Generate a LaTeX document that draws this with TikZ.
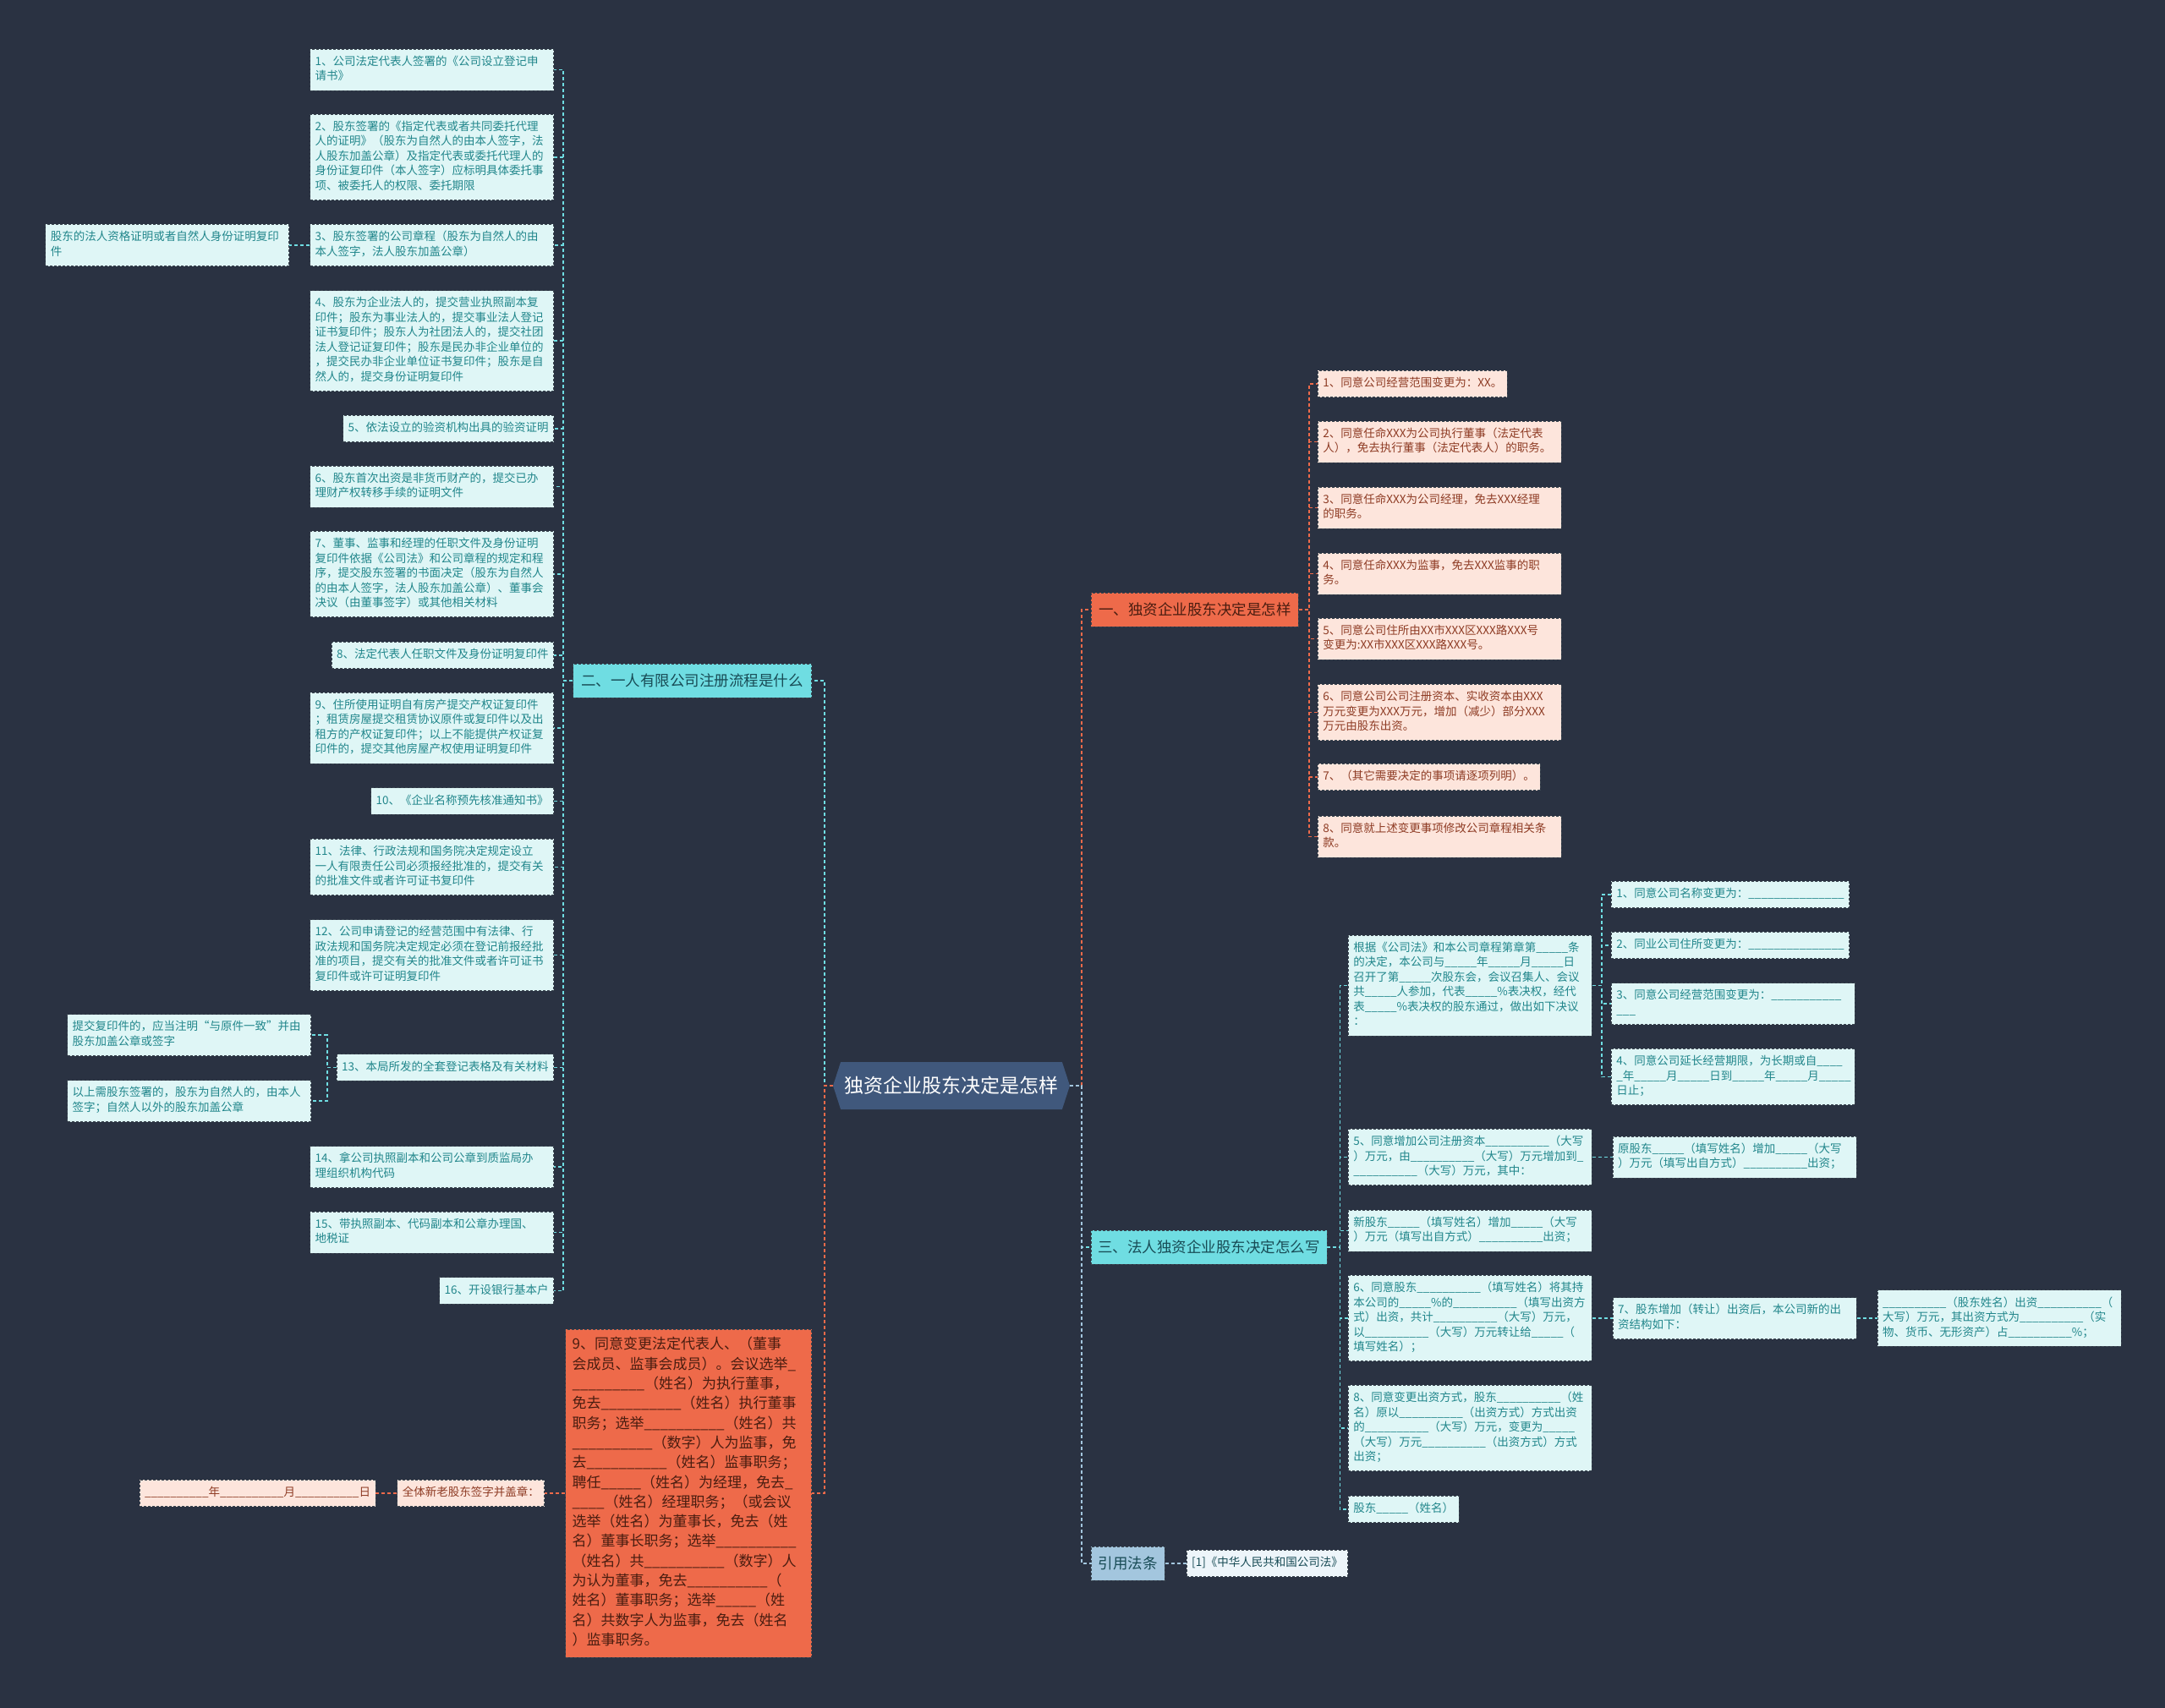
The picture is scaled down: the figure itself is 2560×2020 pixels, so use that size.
\documentclass[tikz,border=0pt]{standalone}
\usepackage{fontspec}
\setmainfont{Noto Sans CJK SC}
\usetikzlibrary{positioning,shapes.symbols}
\definecolor{bg}{HTML}{2A3242}
\definecolor{rootblue}{HTML}{40587C}
\definecolor{coral}{HTML}{EE6A4A}
\definecolor{aqua}{HTML}{6FDDE2}
\definecolor{aquapale}{HTML}{DFF6F6}
\definecolor{aquaink}{HTML}{21868B}
\definecolor{peachpale}{HTML}{FDE5DC}
\definecolor{peachink}{HTML}{8E3B24}
\definecolor{steel}{HTML}{A3C6DE}
\definecolor{mist}{HTML}{EDF5FA}
\definecolor{rim}{HTML}{3B4650}
\definecolor{deepteal}{HTML}{184B55}
\definecolor{deepbrown}{HTML}{4A1D10}
\begin{document}
\catcode`\_=12
\begin{tikzpicture}[x=1pt,y=-1pt,
  leaf/.style={rectangle,fill=aquapale,draw=rim,dash pattern=on 3pt off 2pt,line width=.8pt,text=aquaink,font=\fontsize{13.5}{17.5}\selectfont,align=left,inner xsep=6pt,inner ysep=7pt,execute at begin node=\strut,execute at end node=\strut},
  wide/.style={text width=276pt},
  peach/.style={fill=peachpale,text=peachink},
  branch/.style={rectangle,draw=rim,dash pattern=on 3pt off 2pt,line width=.8pt,font=\fontsize{17.5}{21}\selectfont,minimum height=40pt,inner xsep=8pt},
  wire/.style={line width=1.6pt,dash pattern=on 4pt off 3pt}
]
  \useasboundingbox (0,0) rectangle (2560,2020);
  \fill[bg] (0,0) rectangle (2560,2020);

  \node[signal,signal to=west and east,signal pointer angle=144,fill=rootblue,text=white,font=\fontsize{23}{28}\selectfont,minimum width=280pt,minimum height=56pt,inner sep=0pt] (root) at (1125,1284) {独资企业股东决定是怎样};

  \node[branch,fill=coral,text=deepbrown,minimum width=245pt,anchor=west] (one) at (1290,721) {一、独资企业股东决定是怎样};
  \node[branch,fill=aqua,text=deepteal,minimum width=282pt,anchor=east] (two) at (960,805) {二、一人有限公司注册流程是什么};
  \node[branch,fill=aqua,text=deepteal,minimum width=278pt,anchor=west] (three) at (1290,1475) {三、法人独资企业股东决定怎么写};
  \node[branch,fill=steel,text=deepteal,minimum width=87pt,anchor=west] (law) at (1290,1849) {引用法条};
  \node[branch,fill=coral,text=deepbrown,align=left,text width=275pt,font=\fontsize{17}{23.3}\selectfont,inner xsep=8pt,inner ysep=7.6pt,execute at begin node=\strut,execute at end node=\strut,anchor=east] (nine) at (960,1766) {9、同意变更法定代表人、（董事\\会成员、监事会成员）。会议选举_\\_________（姓名）为执行董事，\\免去__________（姓名）执行董事\\职务；选举__________（姓名）共\\__________（数字）人为监事，免\\去__________（姓名）监事职务；\\聘任_____（姓名）为经理，免去_\\____（姓名）经理职务；（或会议\\选举（姓名）为董事长，免去（姓\\名）董事长职务；选举__________\\（姓名）共__________（数字）人\\为认为董事，免去__________（\\姓名）董事职务；选举_____（姓\\名）共数字人为监事，免去（姓名\\）监事职务。};
  \node[leaf,peach,left=24pt of nine] (sign) {全体新老股东签字并盖章：};
  \node[leaf,peach,left=25pt of sign] (date) {__________年__________月__________日};

  \node[leaf,wide,anchor=east] (l1) at (655,82.5) {1、公司法定代表人签署的《公司设立登记申\\请书》};
  \node[leaf,wide,anchor=east] (l2) at (655,186) {2、股东签署的《指定代表或者共同委托代理\\人的证明》（股东为自然人的由本人签字，法\\人股东加盖公章）及指定代表或委托代理人的\\身份证复印件（本人签字）应标明具体委托事\\项、被委托人的权限、委托期限};
  \node[leaf,wide,anchor=east] (l3) at (655,290) {3、股东签署的公司章程（股东为自然人的由\\本人签字，法人股东加盖公章）};
  \node[leaf,wide,anchor=east] (l4) at (655,403) {4、股东为企业法人的，提交营业执照副本复\\印件；股东为事业法人的，提交事业法人登记\\证书复印件；股东人为社团法人的，提交社团\\法人登记证复印件；股东是民办非企业单位的\\，提交民办非企业单位证书复印件；股东是自\\然人的，提交身份证明复印件};
  \node[leaf,anchor=east] (l5) at (655,507) {5、依法设立的验资机构出具的验资证明};
  \node[leaf,wide,anchor=east] (l6) at (655,575.5) {6、股东首次出资是非货币财产的，提交已办\\理财产权转移手续的证明文件};
  \node[leaf,wide,anchor=east] (l7) at (655,679) {7、董事、监事和经理的任职文件及身份证明\\复印件依据《公司法》和公司章程的规定和程\\序，提交股东签署的书面决定（股东为自然人\\的由本人签字，法人股东加盖公章）、董事会\\决议（由董事签字）或其他相关材料};
  \node[leaf,anchor=east] (l8) at (655,775) {8、法定代表人任职文件及身份证明复印件};
  \node[leaf,wide,anchor=east] (l9) at (655,861) {9、住所使用证明自有房产提交产权证复印件\\；租赁房屋提交租赁协议原件或复印件以及出\\租方的产权证复印件；以上不能提供产权证复\\印件的，提交其他房屋产权使用证明复印件};
  \node[leaf,anchor=east] (l10) at (655,947.5) {10、《企业名称预先核准通知书》};
  \node[leaf,wide,anchor=east] (l11) at (655,1025.5) {11、法律、行政法规和国务院决定规定设立\\一人有限责任公司必须报经批准的，提交有关\\的批准文件或者许可证书复印件};
  \node[leaf,wide,anchor=east] (l12) at (655,1129.5) {12、公司申请登记的经营范围中有法律、行\\政法规和国务院决定规定必须在登记前报经批\\准的项目，提交有关的批准文件或者许可证书\\复印件或许可证明复印件};
  \node[leaf,anchor=east] (l13) at (655,1262.5) {13、本局所发的全套登记表格及有关材料};
  \node[leaf,wide,anchor=east] (l14) at (655,1380) {14、拿公司执照副本和公司公章到质监局办\\理组织机构代码};
  \node[leaf,wide,anchor=east] (l15) at (655,1457.5) {15、带执照副本、代码副本和公章办理国、\\地税证};
  \node[leaf,anchor=east] (l16) at (655,1526.5) {16、开设银行基本户};

  \node[leaf,wide,left=24pt of l3] (l3a) {股东的法人资格证明或者自然人身份证明复印\\件};
  \node[leaf,wide,anchor=east] (l13a) at (368,1224) {提交复印件的，应当注明“与原件一致”并由\\股东加盖公章或签字};
  \node[leaf,wide,anchor=east] (l13b) at (368,1302) {以上需股东签署的，股东为自然人的，由本人\\签字；自然人以外的股东加盖公章};

  \node[leaf,peach,anchor=west] (r1) at (1558,454) {1、同意公司经营范围变更为：XX。};
  \node[leaf,peach,wide,anchor=west] (r2) at (1558,522.5) {2、同意任命XXX为公司执行董事（法定代表\\人），免去执行董事（法定代表人）的职务。};
  \node[leaf,peach,wide,anchor=west] (r3) at (1558,600.5) {3、同意任命XXX为公司经理，免去XXX经理\\的职务。};
  \node[leaf,peach,wide,anchor=west] (r4) at (1558,678.5) {4、同意任命XXX为监事，免去XXX监事的职\\务。};
  \node[leaf,peach,wide,anchor=west] (r5) at (1558,755.5) {5、同意公司住所由XX市XXX区XXX路XXX号\\变更为:XX市XXX区XXX路XXX号。};
  \node[leaf,peach,wide,anchor=west] (r6) at (1558,842.5) {6、同意公司公司注册资本、实收资本由XXX\\万元变更为XXX万元，增加（减少）部分XXX\\万元由股东出资。};
  \node[leaf,peach,anchor=west] (r7) at (1558,919) {7、（其它需要决定的事项请逐项列明）。};
  \node[leaf,peach,wide,anchor=west] (r8) at (1558,989.5) {8、同意就上述变更事项修改公司章程相关条\\款。};

  \node[leaf,wide,anchor=west] (t0) at (1594,1165.5) {根据《公司法》和本公司章程第章第_____条\\的决定，本公司与_____年_____月_____日\\召开了第_____次股东会，会议召集人、会议\\共_____人参加，代表_____\%表决权，经代\\表_____\%表决权的股东通过，做出如下决议\\：};
  \node[leaf,wide,anchor=west] (t5) at (1594,1368.5) {5、同意增加公司注册资本__________（大写\\）万元，由__________（大写）万元增加到_\\__________（大写）万元，其中：};
  \node[leaf,wide,anchor=west] (tnew) at (1594,1455.5) {新股东_____（填写姓名）增加_____（大写\\）万元（填写出自方式）__________出资；};
  \node[leaf,wide,anchor=west] (t6) at (1594,1559) {6、同意股东__________（填写姓名）将其持\\本公司的_____\%的__________（填写出资方\\式）出资，共计__________（大写）万元，\\以__________（大写）万元转让给_____（\\填写姓名）；};
  \node[leaf,wide,anchor=west] (t8) at (1594,1689) {8、同意变更出资方式，股东__________（姓\\名）原以__________（出资方式）方式出资\\的__________（大写）万元，变更为_____\\（大写）万元__________（出资方式）方式\\出资；};
  \node[leaf,anchor=west] (tsh) at (1594,1785) {股东_____（姓名）};

  \node[leaf,wide,right=24pt of t5] (t5a) {原股东_____（填写姓名）增加_____（大写\\）万元（填写出自方式）__________出资；};
  \node[leaf,wide,right=24pt of t6] (t7) {7、股东增加（转让）出资后，本公司新的出\\资结构如下：};
  \node[leaf,wide,right=24pt of t7] (t7a) {__________（股东姓名）出资__________（\\大写）万元，其出资方式为__________（实\\物、货币、无形资产）占__________\%；};

  \node[leaf,anchor=west] (s1) at (1905,1058) {1、同意公司名称变更为：_______________};
  \node[leaf,anchor=west] (s2) at (1905,1118) {2、同业公司住所变更为：_______________};
  \node[leaf,wide,anchor=west] (s3) at (1905,1187) {3、同意公司经营范围变更为：___________\\___};
  \node[leaf,wide,anchor=west] (s4) at (1905,1273.5) {4、同意公司延长经营期限，为长期或自____\\_年_____月_____日到_____年_____月_____\\日止；};

  \node[leaf,fill=mist,text=deepteal,right=25pt of law] (lawref) {[1]《中华人民共和国公司法》};

  \draw[wire,aqua] (root.west) -- ++(-10,0) |- (two.east);
  \draw[wire,coral] (root.west) -- ++(-10,0) |- (nine.east);
  \draw[wire,coral] (root.east) -- ++(14,0) |- (one.west);
  \draw[wire,aqua] (root.east) -- ++(14,0) |- (three.west);
  \draw[wire,steel] (root.east) -- ++(14,0) |- (law.west);

  \draw[wire,aqua] (two.west) -- ++(-11,0) |- (l1.east);
  \draw[wire,aqua] (two.west) -- ++(-11,0) |- (l2.east);
  \draw[wire,aqua] (two.west) -- ++(-11,0) |- (l3.east);
  \draw[wire,aqua] (two.west) -- ++(-11,0) |- (l4.east);
  \draw[wire,aqua] (two.west) -- ++(-11,0) |- (l5.east);
  \draw[wire,aqua] (two.west) -- ++(-11,0) |- (l6.east);
  \draw[wire,aqua] (two.west) -- ++(-11,0) |- (l7.east);
  \draw[wire,aqua] (two.west) -- ++(-11,0) |- (l8.east);
  \draw[wire,aqua] (two.west) -- ++(-11,0) |- (l9.east);
  \draw[wire,aqua] (two.west) -- ++(-11,0) |- (l10.east);
  \draw[wire,aqua] (two.west) -- ++(-11,0) |- (l11.east);
  \draw[wire,aqua] (two.west) -- ++(-11,0) |- (l12.east);
  \draw[wire,aqua] (two.west) -- ++(-11,0) |- (l13.east);
  \draw[wire,aqua] (two.west) -- ++(-11,0) |- (l14.east);
  \draw[wire,aqua] (two.west) -- ++(-11,0) |- (l15.east);
  \draw[wire,aqua] (two.west) -- ++(-11,0) |- (l16.east);
  \draw[wire,aqua] (l3) -- (l3a);
  \draw[wire,aqua] (l13.west) -- ++(-11,0) |- (l13a.east);
  \draw[wire,aqua] (l13.west) -- ++(-11,0) |- (l13b.east);

  \draw[wire,coral] (nine) -- (sign);
  \draw[wire,coral] (sign) -- (date);

  \draw[wire,coral] (one.east) -- ++(12,0) |- (r1.west);
  \draw[wire,coral] (one.east) -- ++(12,0) |- (r2.west);
  \draw[wire,coral] (one.east) -- ++(12,0) |- (r3.west);
  \draw[wire,coral] (one.east) -- ++(12,0) |- (r4.west);
  \draw[wire,coral] (one.east) -- ++(12,0) |- (r5.west);
  \draw[wire,coral] (one.east) -- ++(12,0) |- (r6.west);
  \draw[wire,coral] (one.east) -- ++(12,0) |- (r7.west);
  \draw[wire,coral] (one.east) -- ++(12,0) |- (r8.west);

  \draw[wire,aqua] (three.east) -- ++(15,0) |- (t0.west);
  \draw[wire,aqua] (three.east) -- ++(15,0) |- (t5.west);
  \draw[wire,aqua] (three.east) -- ++(15,0) |- (tnew.west);
  \draw[wire,aqua] (three.east) -- ++(15,0) |- (t6.west);
  \draw[wire,aqua] (three.east) -- ++(15,0) |- (t8.west);
  \draw[wire,aqua] (three.east) -- ++(15,0) |- (tsh.west);
  \draw[wire,aqua] (t0.east) -- ++(11,0) |- (s1.west);
  \draw[wire,aqua] (t0.east) -- ++(11,0) |- (s2.west);
  \draw[wire,aqua] (t0.east) -- ++(11,0) |- (s3.west);
  \draw[wire,aqua] (t0.east) -- ++(11,0) |- (s4.west);
  \draw[wire,aqua] (t5) -- (t5a);
  \draw[wire,aqua] (t6) -- (t7);
  \draw[wire,aqua] (t7) -- (t7a);

  \draw[wire,steel] (law) -- (lawref);
\end{tikzpicture}
\end{document}
